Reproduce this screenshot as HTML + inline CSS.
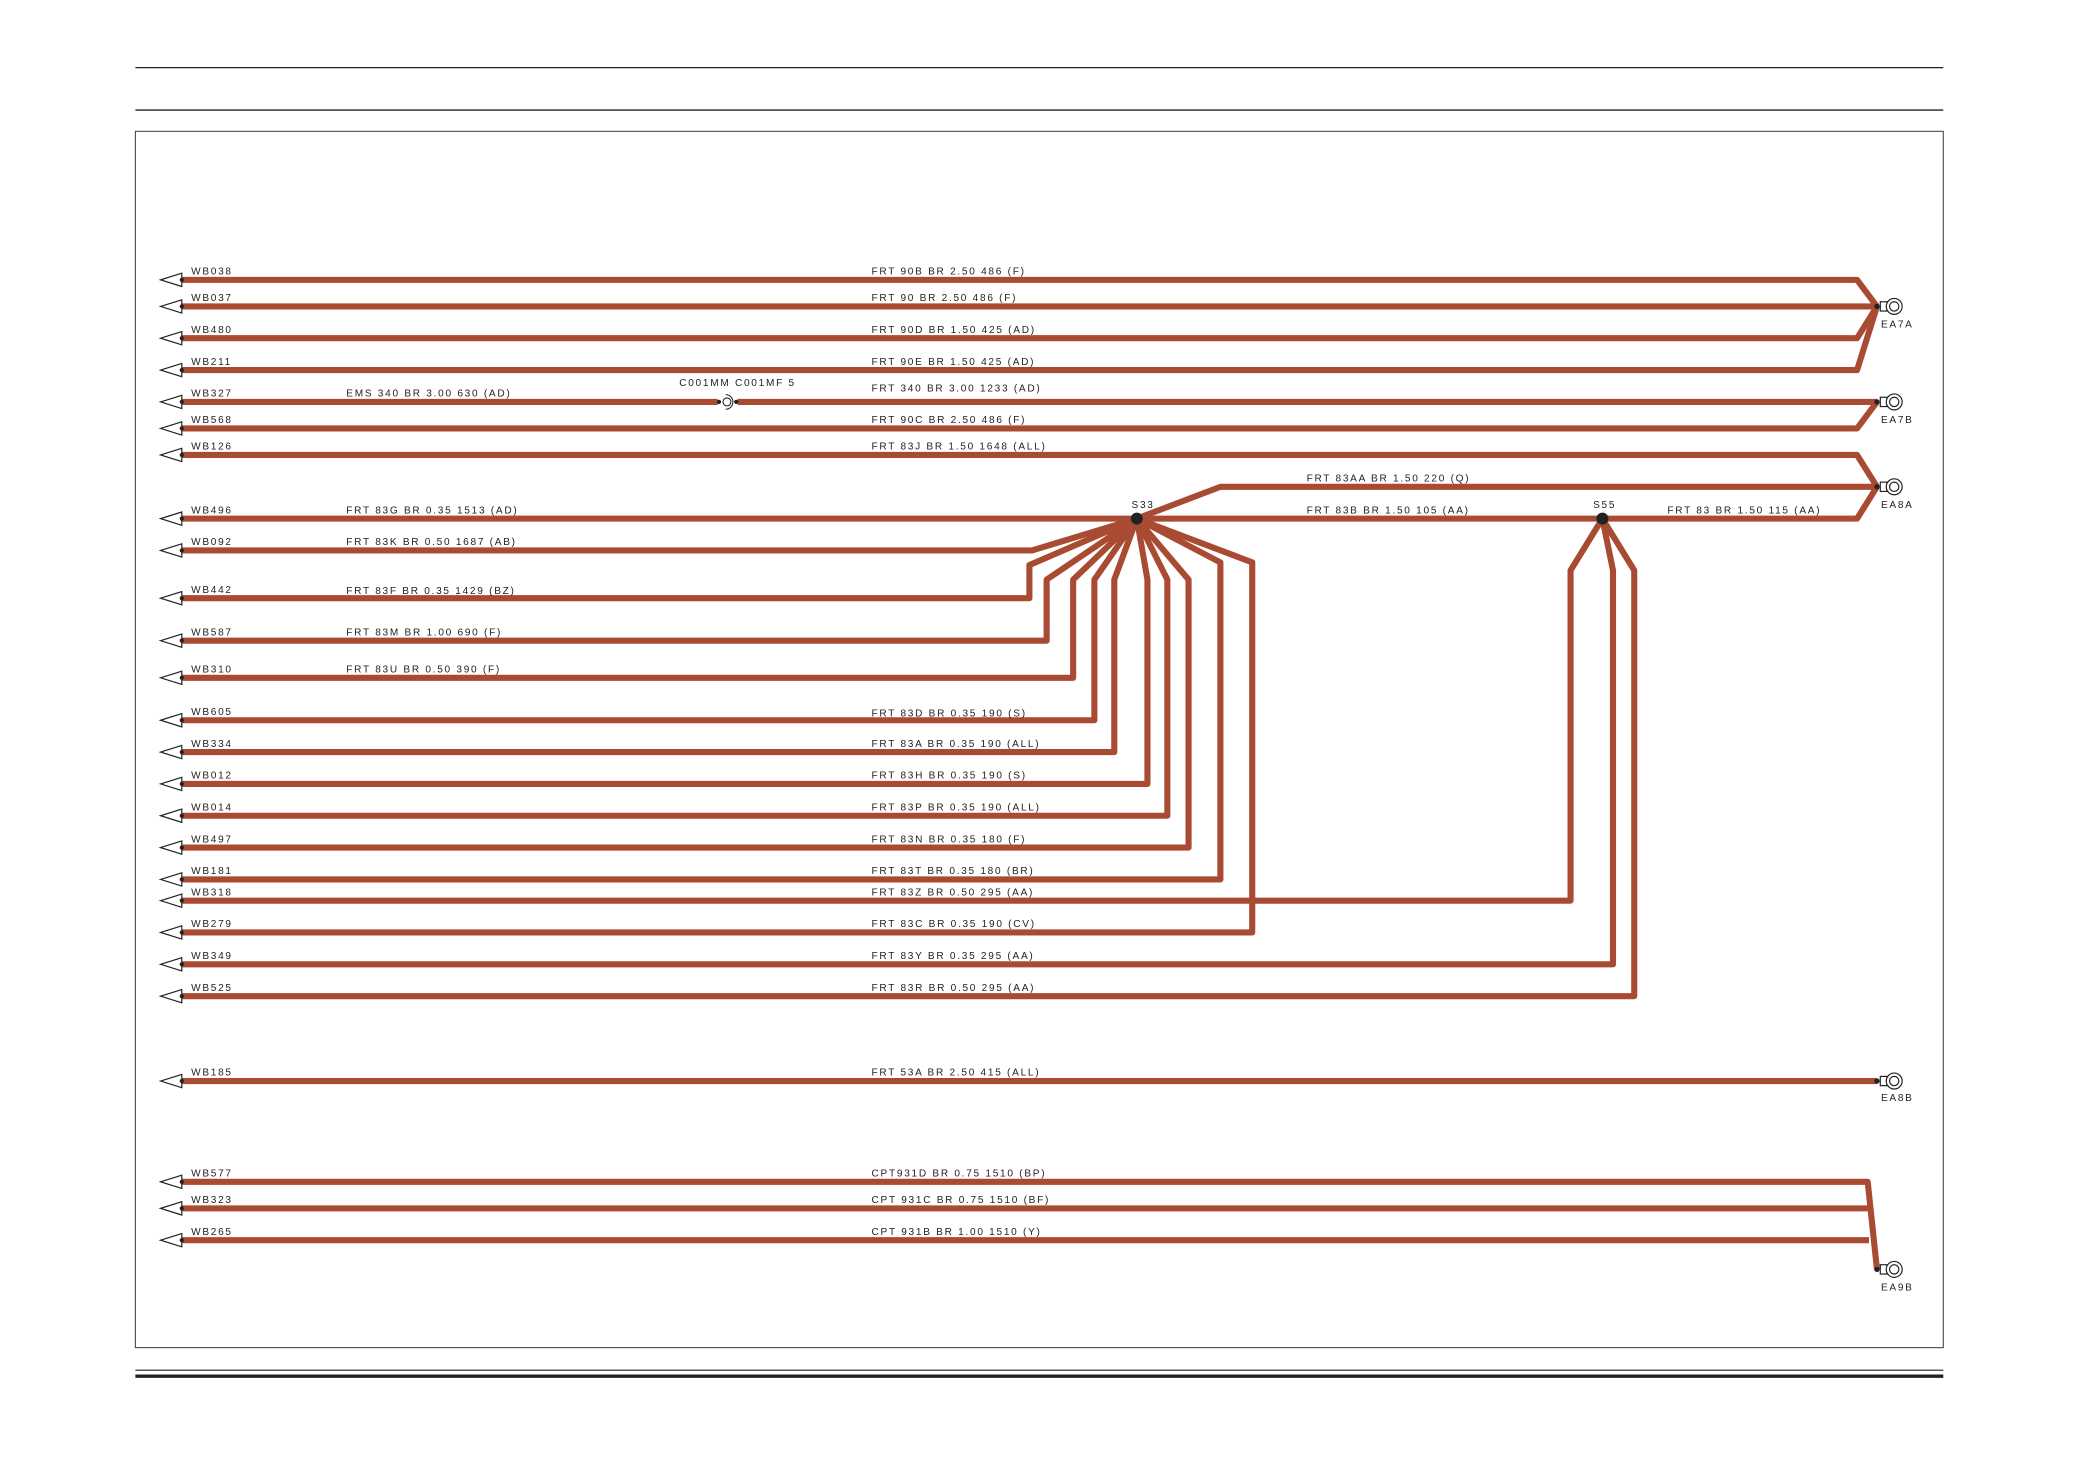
<!DOCTYPE html>
<html><head><meta charset="utf-8"><style>
html,body{margin:0;padding:0;background:#fff;}
svg{display:block;}
text{font-family:"Liberation Sans",sans-serif;font-size:7.6px;letter-spacing:1.3px;fill:#222;}
</style></head><body>
<svg width="2080" height="1471" viewBox="0 0 1568 1109" xmlns="http://www.w3.org/2000/svg">
<defs>
<g id="ah"><polygon points="-16,0 0,-5 0,5" fill="#fff" stroke="#222" stroke-width="0.9"/><circle cx="0" cy="0" r="1.6" fill="#222"/></g>
<g id="cn"><circle cx="0" cy="0" r="2" fill="#222"/><rect x="2.5" y="-3.5" width="5" height="7" fill="#fff" stroke="#222" stroke-width="0.9"/><circle cx="13" cy="0" r="6" fill="#fff" stroke="#222" stroke-width="0.9"/><circle cx="13" cy="0" r="3.5" fill="none" stroke="#222" stroke-width="0.9"/></g>
</defs>
<line x1="102" y1="51" x2="1465" y2="51" stroke="#222" stroke-width="1"/>
<line x1="102" y1="83" x2="1465" y2="83" stroke="#222" stroke-width="1"/>
<rect x="102" y="99" width="1363" height="917" fill="none" stroke="#444" stroke-width="0.8"/>
<line x1="102" y1="1033" x2="1465" y2="1033" stroke="#222" stroke-width="0.8"/>
<line x1="102" y1="1037.5" x2="1465" y2="1037.5" stroke="#222" stroke-width="2.5"/>

<g fill="none" stroke="#a94b32" stroke-width="4.6" stroke-linejoin="round">
<polyline points="137,211 1400,211 1415,231"/>
<polyline points="137,231 1415,231"/>
<polyline points="137,255 1400,255 1415,231"/>
<polyline points="137,279 1400,279 1415,231"/>
<polyline points="137,303 541,303"/>
<polyline points="556,303 1415,303"/>
<polyline points="137,323 1400,323 1415,303"/>
<polyline points="137,343 1400,343 1415,367"/>
<polyline points="857,391 920,367 1415,367"/>
<polyline points="137,391 1400,391 1415,367"/>
<polyline points="137,415 778,415 857,391"/>
<polyline points="137,451 776,451 776,426 857,391"/>
<polyline points="137,483 789,483 789,437 857,391"/>
<polyline points="137,511 809,511 809,437 857,391"/>
<polyline points="137,543 825,543 825,437 857,391"/>
<polyline points="137,567 840,567 840,437 857,391"/>
<polyline points="137,591 865,591 865,437 857,391"/>
<polyline points="137,615 880,615 880,437 857,391"/>
<polyline points="137,639 896,639 896,437 857,391"/>
<polyline points="137,663 920,663 920,424 857,391"/>
<polyline points="137,679 1184,679 1184,430 1208,391"/>
<polyline points="137,703 944,703 944,424 857,391"/>
<polyline points="137,727 1216,727 1216,430 1208,391"/>
<polyline points="137,751 1232,751 1232,430 1208,391"/>
<polyline points="137,815 1415,815"/>
<polyline points="137,891 1408,891 1415,957"/>
<polyline points="137,911 1408,911"/>
<polyline points="137,935 1409,935"/>
</g>
<circle cx="857" cy="391" r="4.5" fill="#222"/>
<circle cx="1208" cy="391" r="4.5" fill="#222"/>

<circle cx="542" cy="303" r="1.6" fill="#222"/><circle cx="555" cy="303" r="1.6" fill="#222"/>
<path d="M547,297.5 A5.5,5.5 0 0 1 547,308.5" fill="none" stroke="#222" stroke-width="0.8"/>
<circle cx="548" cy="303" r="3" fill="none" stroke="#222" stroke-width="0.8"/>

<use href="#cn" x="1415" y="231"/><use href="#cn" x="1415" y="303"/><use href="#cn" x="1415" y="367"/>
<use href="#cn" x="1415" y="815"/><use href="#cn" x="1415" y="957"/>
<text x="1418" y="247">EA7A</text><text x="1418" y="319">EA7B</text><text x="1418" y="383">EA8A</text>
<text x="1418" y="830">EA8B</text><text x="1418" y="973">EA9B</text>

<g>
<use href="#ah" x="137" y="211"/><use href="#ah" x="137" y="231"/><use href="#ah" x="137" y="255"/><use href="#ah" x="137" y="279"/>
<use href="#ah" x="137" y="303"/><use href="#ah" x="137" y="323"/><use href="#ah" x="137" y="343"/><use href="#ah" x="137" y="391"/>
<use href="#ah" x="137" y="415"/><use href="#ah" x="137" y="451"/><use href="#ah" x="137" y="483"/><use href="#ah" x="137" y="511"/>
<use href="#ah" x="137" y="543"/><use href="#ah" x="137" y="567"/><use href="#ah" x="137" y="591"/><use href="#ah" x="137" y="615"/>
<use href="#ah" x="137" y="639"/><use href="#ah" x="137" y="663"/><use href="#ah" x="137" y="679"/><use href="#ah" x="137" y="703"/>
<use href="#ah" x="137" y="727"/><use href="#ah" x="137" y="751"/><use href="#ah" x="137" y="815"/><use href="#ah" x="137" y="891"/>
<use href="#ah" x="137" y="911"/><use href="#ah" x="137" y="935"/>
</g>

<g>
<text x="144" y="207">WB038</text><text x="657" y="207">FRT 90B BR 2.50 486 (F)</text>
<text x="144" y="227">WB037</text><text x="657" y="227">FRT 90 BR 2.50 486 (F)</text>
<text x="144" y="251">WB480</text><text x="657" y="251">FRT 90D BR 1.50 425 (AD)</text>
<text x="144" y="275">WB211</text><text x="657" y="275">FRT 90E BR 1.50 425 (AD)</text>
<text x="144" y="299">WB327</text><text x="261" y="299">EMS 340 BR 3.00 630 (AD)</text>
<text x="512" y="291">C001MM C001MF 5</text><text x="657" y="295">FRT 340 BR 3.00 1233 (AD)</text>
<text x="144" y="319">WB568</text><text x="657" y="319">FRT 90C BR 2.50 486 (F)</text>
<text x="144" y="339">WB126</text><text x="657" y="339">FRT 83J BR 1.50 1648 (ALL)</text>
<text x="985" y="363">FRT  83AA BR 1.50 220 (Q)</text>
<text x="853" y="383">S33</text><text x="1201" y="383">S55</text>
<text x="985" y="387">FRT 83B BR 1.50 105 (AA)</text>
<text x="1257" y="387">FRT 83 BR 1.50 115 (AA)</text>
<text x="144" y="387">WB496</text><text x="261" y="387">FRT  83G BR 0.35 1513 (AD)</text>
<text x="144" y="411">WB092</text><text x="261" y="411">FRT  83K BR 0.50 1687 (AB)</text>
<text x="144" y="447">WB442</text><text x="261" y="448">FRT  83F BR 0.35 1429 (BZ)</text>
<text x="144" y="479">WB587</text><text x="261" y="479">FRT  83M BR 1.00 690 (F)</text>
<text x="144" y="507">WB310</text><text x="261" y="507">FRT  83U BR 0.50 390 (F)</text>
<text x="144" y="539">WB605</text><text x="657" y="540">FRT 83D BR 0.35 190 (S)</text>
<text x="144" y="563">WB334</text><text x="657" y="563">FRT 83A BR 0.35 190 (ALL)</text>
<text x="144" y="587">WB012</text><text x="657" y="587">FRT 83H BR 0.35 190 (S)</text>
<text x="144" y="611">WB014</text><text x="657" y="611">FRT 83P BR 0.35 190 (ALL)</text>
<text x="144" y="635">WB497</text><text x="657" y="635">FRT 83N BR 0.35 180 (F)</text>
<text x="144" y="659">WB181</text><text x="657" y="659">FRT 83T BR 0.35 180 (BR)</text>
<text x="144" y="675">WB318</text><text x="657" y="675">FRT 83Z BR 0.50 295 (AA)</text>
<text x="144" y="699">WB279</text><text x="657" y="699">FRT 83C BR 0.35 190 (CV)</text>
<text x="144" y="723">WB349</text><text x="657" y="723">FRT 83Y BR 0.35 295 (AA)</text>
<text x="144" y="747">WB525</text><text x="657" y="747">FRT 83R BR 0.50 295 (AA)</text>
<text x="144" y="811">WB185</text><text x="657" y="811">FRT 53A BR 2.50 415 (ALL)</text>
<text x="144" y="887">WB577</text><text x="657" y="887">CPT931D BR 0.75 1510 (BP)</text>
<text x="144" y="907">WB323</text><text x="657" y="907">CPT 931C BR 0.75 1510 (BF)</text>
<text x="144" y="931">WB265</text><text x="657" y="931">CPT 931B BR 1.00 1510 (Y)</text>
</g>
</svg>
</body></html>
